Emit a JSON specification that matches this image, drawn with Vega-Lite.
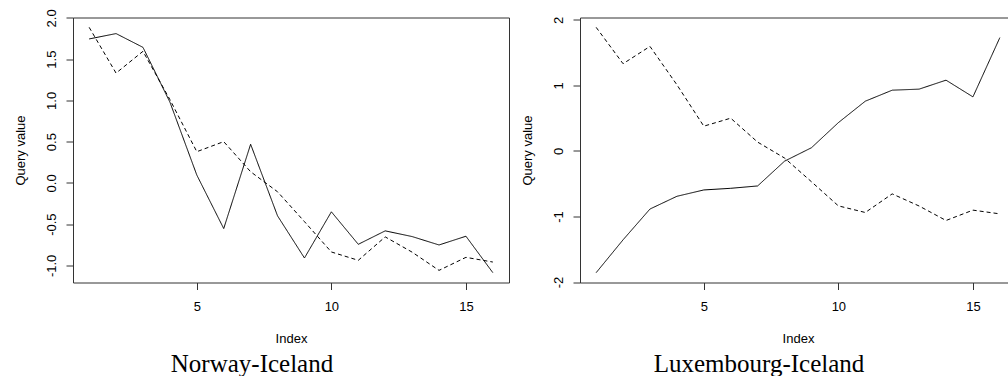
{
  "$schema": "https://vega.github.io/schema/vega-lite/v6.json",
  "background": "white",
  "padding": {"left": 13, "top": 7.5, "right": 0, "bottom": 0},
  "bounds": "flush",
  "spacing": 71,
  "config": {
    "view": {"stroke": "#333", "strokeWidth": 1},
    "font": "Liberation Sans",
    "axis": {
      "domain": false, "grid": false, "ticks": true, "tickColor": "#333", "tickSize": 7,
      "labelColor": "black", "titleColor": "black", "labelFontSize": 13, "titleFontSize": 13,
      "titleFontWeight": "normal", "labelFont": "Liberation Sans", "titleFont": "Liberation Sans"
    },
    "axisY": {"labelAngle": 270, "labelAlign": "center", "labelBaseline": "bottom", "labelPadding": 8, "titlePadding": 18},
    "axisX": {"labelAngle": 0, "labelPadding": 11, "titlePadding": 18.5},
    "title": {"font": "Liberation Serif", "fontSize": 25, "fontWeight": "normal", "color": "black", "orient": "bottom", "anchor": "middle", "frame": "group", "dx": -39, "offset": 7}
  },
  "hconcat": [
    {
      "title": "Norway-Iceland",
      "width": 436, "height": 265,
      "data": {"values": [
        {"index": 1, "series": "Norway", "value": 1.745}, {"index": 2, "series": "Norway", "value": 1.81},
        {"index": 3, "series": "Norway", "value": 1.643}, {"index": 4, "series": "Norway", "value": 0.98},
        {"index": 5, "series": "Norway", "value": 0.095}, {"index": 6, "series": "Norway", "value": -0.554},
        {"index": 7, "series": "Norway", "value": 0.468}, {"index": 8, "series": "Norway", "value": -0.40},
        {"index": 9, "series": "Norway", "value": -0.911}, {"index": 10, "series": "Norway", "value": -0.351},
        {"index": 11, "series": "Norway", "value": -0.745}, {"index": 12, "series": "Norway", "value": -0.582},
        {"index": 13, "series": "Norway", "value": -0.651}, {"index": 14, "series": "Norway", "value": -0.753},
        {"index": 15, "series": "Norway", "value": -0.647}, {"index": 16, "series": "Norway", "value": -1.089},
        {"index": 1, "series": "Iceland", "value": 1.886}, {"index": 2, "series": "Iceland", "value": 1.331},
        {"index": 3, "series": "Iceland", "value": 1.595}, {"index": 4, "series": "Iceland", "value": 1.01},
        {"index": 5, "series": "Iceland", "value": 0.378}, {"index": 6, "series": "Iceland", "value": 0.5},
        {"index": 7, "series": "Iceland", "value": 0.135}, {"index": 8, "series": "Iceland", "value": -0.108},
        {"index": 9, "series": "Iceland", "value": -0.47}, {"index": 10, "series": "Iceland", "value": -0.838},
        {"index": 11, "series": "Iceland", "value": -0.939}, {"index": 12, "series": "Iceland", "value": -0.655},
        {"index": 13, "series": "Iceland", "value": -0.84}, {"index": 14, "series": "Iceland", "value": -1.061},
        {"index": 15, "series": "Iceland", "value": -0.903}, {"index": 16, "series": "Iceland", "value": -0.96}
      ]},
      "mark": {"type": "line", "color": "black", "strokeWidth": 1},
      "encoding": {
        "x": {"field": "index", "type": "quantitative", "title": "Index",
              "scale": {"domain": [0.4, 16.6], "nice": false, "zero": false},
              "axis": {"values": [5, 10, 15]}},
        "y": {"field": "value", "type": "quantitative", "title": "Query value",
              "scale": {"domain": [-1.208, 2.005], "nice": false, "zero": false},
              "axis": {"values": [-1, -0.5, 0, 0.5, 1, 1.5, 2],
                       "labelExpr": "(datum.value < 0 ? '-' : '') + format(abs(datum.value), '.1f')"}},
        "strokeDash": {"field": "series", "type": "nominal",
                       "scale": {"domain": ["Norway", "Iceland"], "range": [[1, 0], [4, 3]]}, "legend": null}
      }
    },
    {
      "title": "Luxembourg-Iceland",
      "width": 436, "height": 265,
      "data": {"values": [
        {"index": 1, "series": "Luxembourg", "value": -1.857}, {"index": 2, "series": "Luxembourg", "value": -1.356},
        {"index": 3, "series": "Luxembourg", "value": -0.886}, {"index": 4, "series": "Luxembourg", "value": -0.692},
        {"index": 5, "series": "Luxembourg", "value": -0.595}, {"index": 6, "series": "Luxembourg", "value": -0.57},
        {"index": 7, "series": "Luxembourg", "value": -0.534}, {"index": 8, "series": "Luxembourg", "value": -0.156},
        {"index": 9, "series": "Luxembourg", "value": 0.049}, {"index": 10, "series": "Luxembourg", "value": 0.432},
        {"index": 11, "series": "Luxembourg", "value": 0.759}, {"index": 12, "series": "Luxembourg", "value": 0.927},
        {"index": 13, "series": "Luxembourg", "value": 0.943}, {"index": 14, "series": "Luxembourg", "value": 1.08},
        {"index": 15, "series": "Luxembourg", "value": 0.825}, {"index": 16, "series": "Luxembourg", "value": 1.729},
        {"index": 1, "series": "Iceland", "value": 1.886}, {"index": 2, "series": "Iceland", "value": 1.331},
        {"index": 3, "series": "Iceland", "value": 1.595}, {"index": 4, "series": "Iceland", "value": 1.01},
        {"index": 5, "series": "Iceland", "value": 0.378}, {"index": 6, "series": "Iceland", "value": 0.5},
        {"index": 7, "series": "Iceland", "value": 0.135}, {"index": 8, "series": "Iceland", "value": -0.108},
        {"index": 9, "series": "Iceland", "value": -0.47}, {"index": 10, "series": "Iceland", "value": -0.838},
        {"index": 11, "series": "Iceland", "value": -0.939}, {"index": 12, "series": "Iceland", "value": -0.655},
        {"index": 13, "series": "Iceland", "value": -0.84}, {"index": 14, "series": "Iceland", "value": -1.061},
        {"index": 15, "series": "Iceland", "value": -0.903}, {"index": 16, "series": "Iceland", "value": -0.96}
      ]},
      "mark": {"type": "line", "color": "black", "strokeWidth": 1},
      "encoding": {
        "x": {"field": "index", "type": "quantitative", "title": "Index",
              "scale": {"domain": [0.4, 16.6], "nice": false, "zero": false},
              "axis": {"values": [5, 10, 15]}},
        "y": {"field": "value", "type": "quantitative", "title": "Query value",
              "scale": {"domain": [-2.007, 2.036], "nice": false, "zero": false},
              "axis": {"values": [-2, -1, 0, 1, 2],
                       "labelExpr": "(datum.value < 0 ? '-' : '') + format(abs(datum.value), 'd')"}},
        "strokeDash": {"field": "series", "type": "nominal",
                       "scale": {"domain": ["Luxembourg", "Iceland"], "range": [[1, 0], [4, 3]]}, "legend": null}
      }
    }
  ]
}
